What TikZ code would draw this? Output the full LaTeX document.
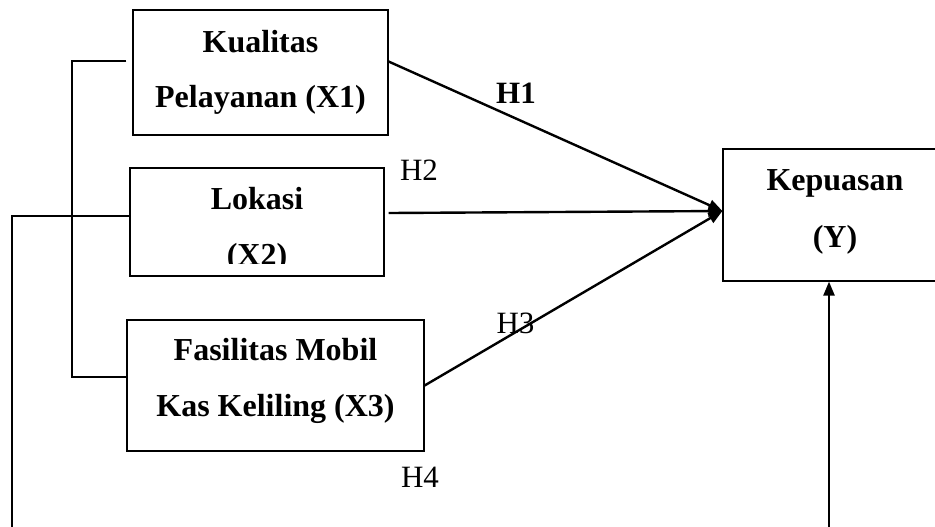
\documentclass[tikz,border=0pt]{standalone}
\usepackage{fontspec}
\setmainfont{Liberation Serif}
\usetikzlibrary{arrows.meta, calc}

\begin{document}
\begin{tikzpicture}[
    x=0.5pt, y=-0.5pt, % one unit = one pixel of the drawing, y downwards
    >={Triangle[length=7pt, width=5.5pt]}, % Filled arrow tips
    box/.style={draw, line width=0.6pt, inner sep=0pt}, % Variable boxes
    vartext/.style={anchor=base, inner sep=0pt, font=\fontsize{16}{19}\selectfont\bfseries}, % Box text lines
    hyp/.style={anchor=base, inner sep=0pt, font=\fontsize{15.5}{18}\selectfont}, % Hypothesis labels
    arrowline/.style={->, line width=1.2pt}, % Effect arrows
    thinline/.style={line width=0.6pt} % Grouping lines
]

    \useasboundingbox (0,0) rectangle (935,526);
    \clip (0,0) rectangle (935,526);

    % Variable boxes
    \node[box, minimum width=127.5pt, minimum height=62.5pt] (x1) at (260.5,72.5) {};
    \node[box, minimum width=127pt, minimum height=54pt] (x2) at (257,222) {};
    \node[box, minimum width=148.5pt, minimum height=65.5pt] (x3) at (275.5,385.5) {};
    \node[box, minimum width=112pt, minimum height=66pt] (y) at (835,215) {};

    % Box texts
    \node[vartext] (x1a) at (260.5,52) {Kualitas};
    \node[vartext] (x1b) at (260.5,107) {Pelayanan (X1)};
    \node[vartext] (x2a) at (257,209) {Lokasi};
    \begin{scope}
        \clip (x2.north west) rectangle ([yshift=6.5pt]x2.south east); % second line is cut by the box
        \node[vartext] (x2b) at (257,265) {(X2)};
    \end{scope}
    \node[vartext] (x3a) at (275.5,360) {Fasilitas Mobil};
    \node[vartext] (x3b) at (275.5,416) {Kas Keliling (X3)};
    \node[vartext] (ya) at (835,190) {Kepuasan};
    \node[vartext] (yb) at (835,247) {(Y)};

    % Effect arrows into Y
    \coordinate (yin) at ([yshift=2pt]y.west);
    \draw[arrowline] ([yshift=5.5pt]x1.east) -- (yin);
    \draw[arrowline] ([xshift=2pt,yshift=4.5pt]x2.east) -- (yin);
    \draw[arrowline] (x3.east) -- (yin);

    % Bracket joining X1 and X3
    \coordinate (brk) at (72,61);
    \draw[thinline] ($(x1.west |- brk)+(-6,0)$) -- (brk) |- ([yshift=4.25pt]x3.west);

    % Outer line from X2 round the bottom into Y
    \coordinate (lowl) at (12,560);
    \coordinate (lowr) at (829,560);
    \draw[thinline] ([yshift=3pt]x2.west) -| (lowl) -- (lowr);
    \draw[arrowline] (lowr) -- (y.south -| lowr);

    % Hypothesis labels
    \node[hyp, font=\fontsize{15.5}{18}\selectfont\bfseries] (h1) at (516,103) {H1};
    \node[hyp] (h2) at (419,180) {H2};
    \node[hyp] (h3) at (515.5,333) {H3};
    \node[hyp] (h4) at (420,487) {H4};

\end{tikzpicture}
\end{document}
